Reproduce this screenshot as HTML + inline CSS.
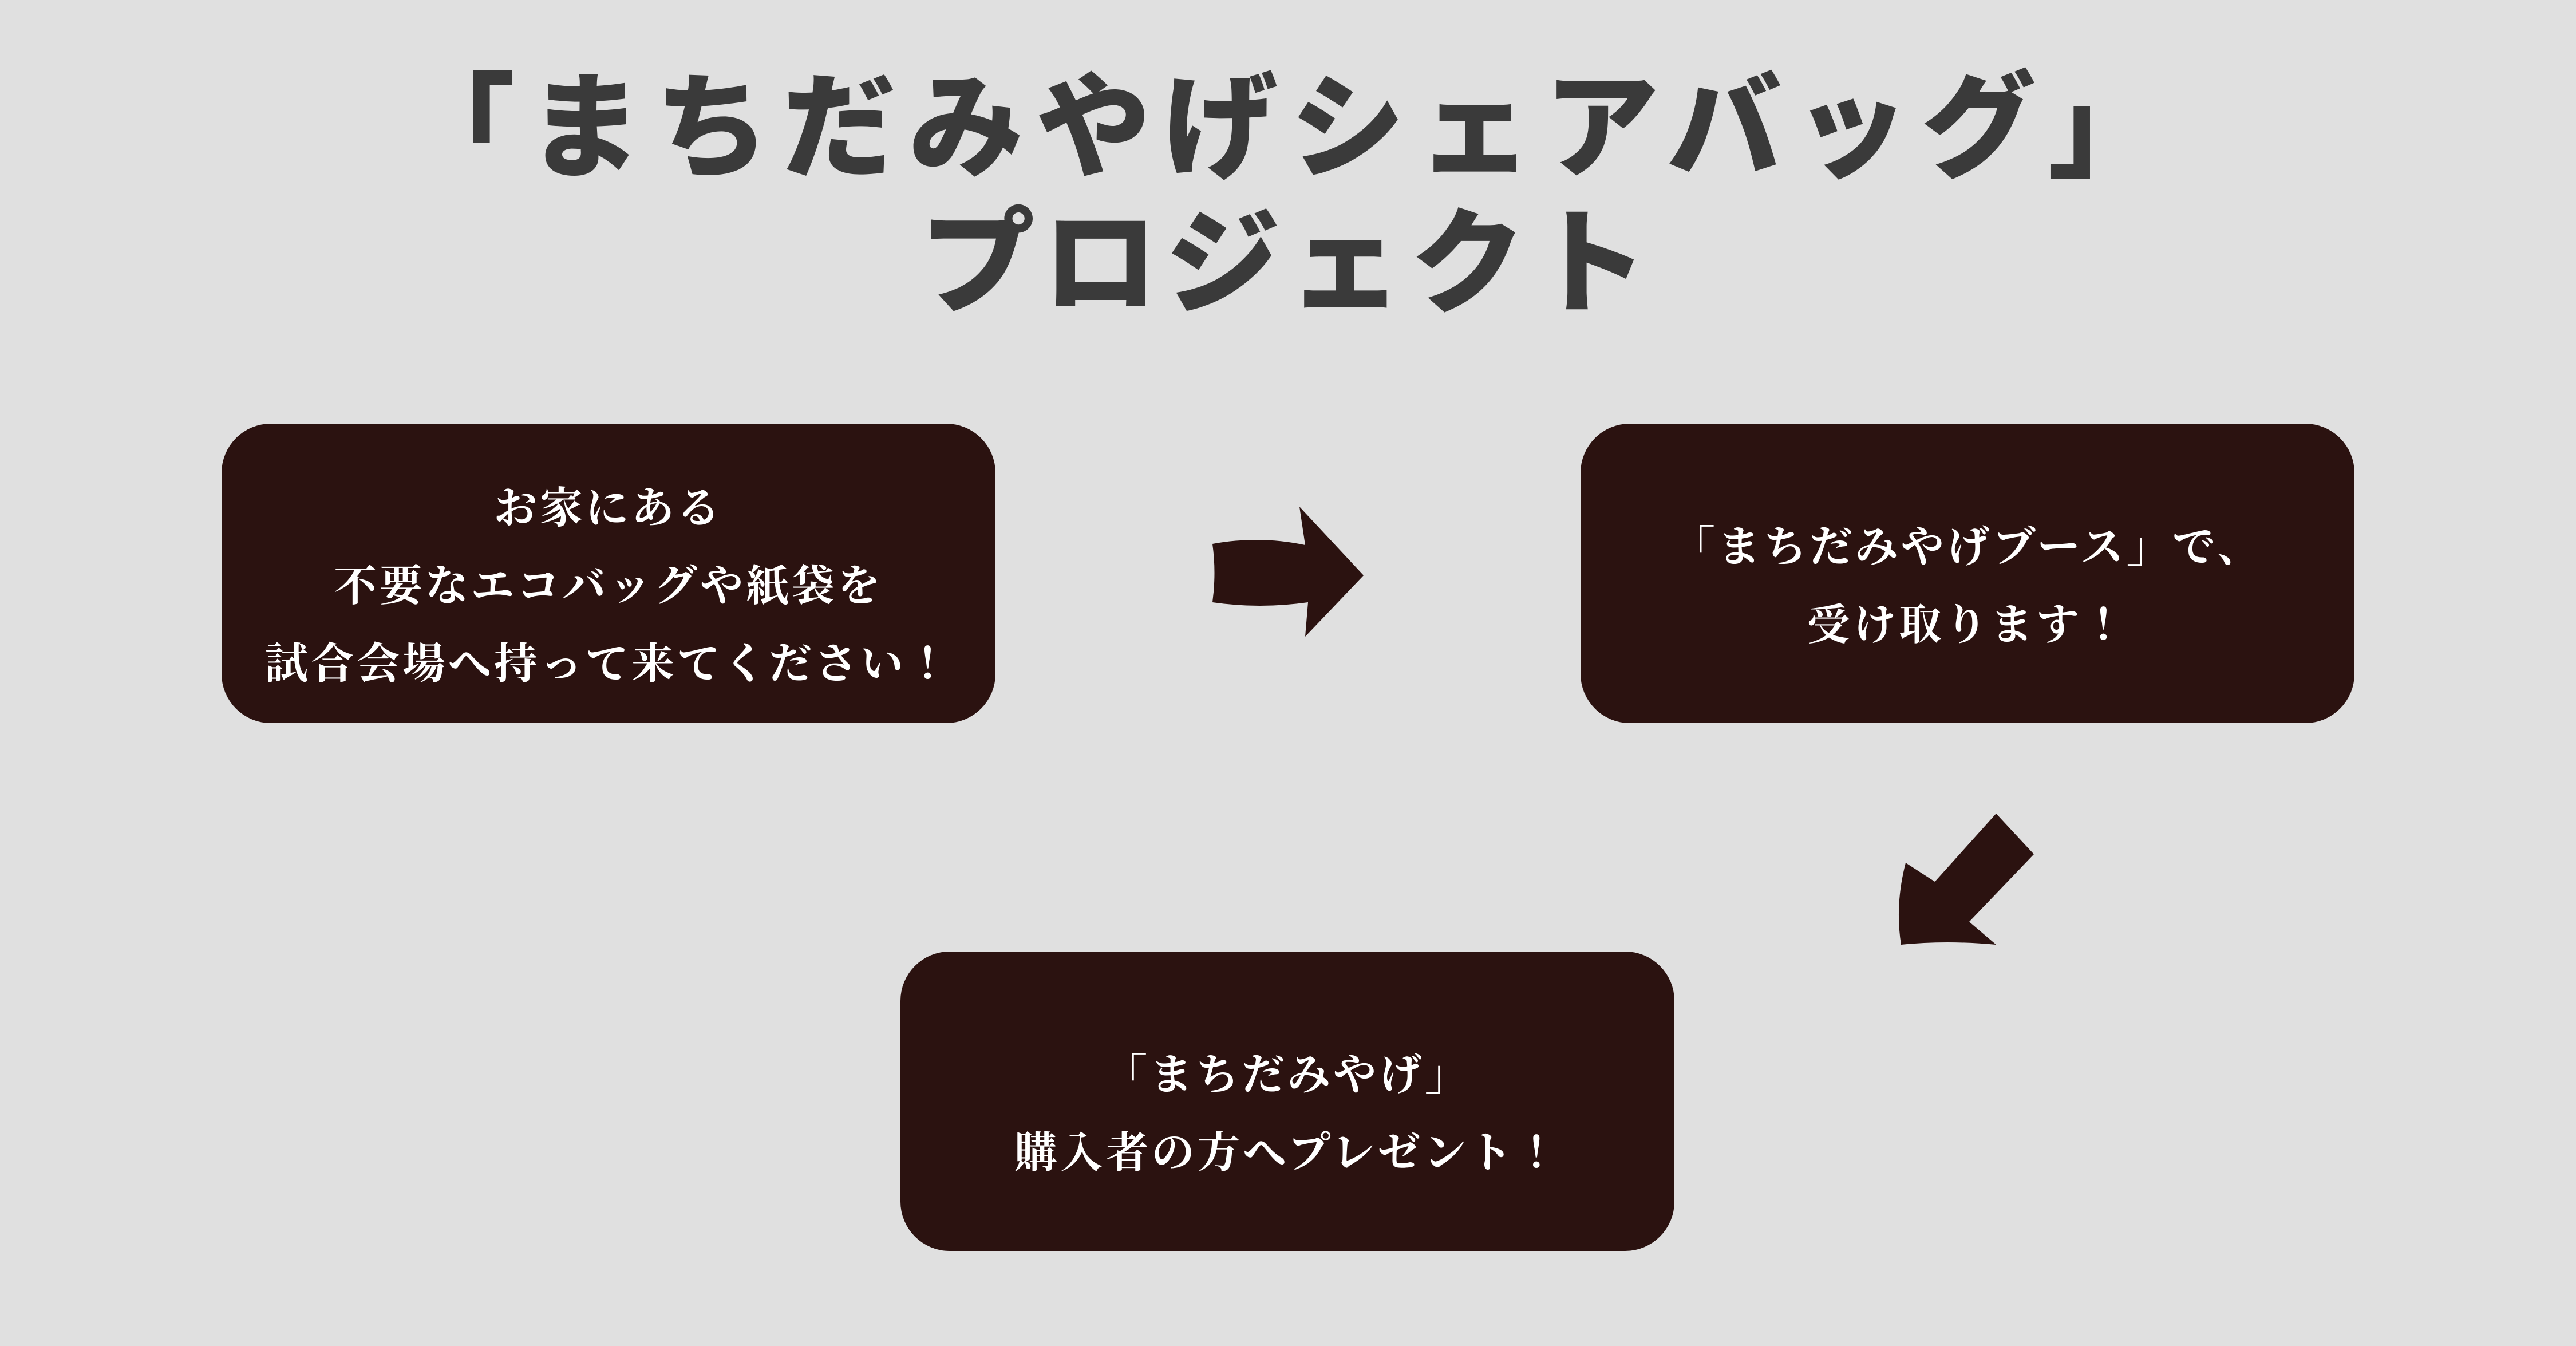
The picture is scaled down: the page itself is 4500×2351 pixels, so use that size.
<!DOCTYPE html>
<html><head><meta charset="utf-8"><style>
html,body{margin:0;padding:0}
body{width:4500px;height:2351px;background:#e0e0e0;position:relative;overflow:hidden}
.t{position:absolute;left:0;width:4500px;text-align:center;font-family:"Liberation Sans","Noto Sans CJK JP",sans-serif;font-weight:900;color:#3a3a3a;font-size:200px;line-height:1;letter-spacing:22px}
.b{position:absolute;box-sizing:border-box;padding-top:46px;width:1352px;height:523px;background:#2b1210;border-radius:86px;color:#fff;font-family:"Liberation Serif","Noto Serif CJK JP",serif;font-weight:700;font-size:75px;display:flex;flex-direction:column;justify-content:center;align-items:center;line-height:136px;text-align:center;letter-spacing:5px}
</style></head><body>
<div class="t" style="top:125px">「まちだみやげシェアバッグ」</div>
<div class="t" style="top:362px;letter-spacing:14px">プロジェクト</div>
<div class="b" style="left:387px;top:740px"><div>お家にある</div><div>不要なエコバッグや紙袋を</div><div>試合会場へ持って来てください！</div></div>
<div class="b" style="left:2761px;top:740px"><div>「まちだみやげブース」で、</div><div>受け取ります！</div></div>
<div class="b" style="left:1573px;top:1662px"><div>「まちだみやげ」</div><div>購入者の方へプレゼント！</div></div>
<svg width="4500" height="2351" style="position:absolute;left:0;top:0">
<path fill="#2b1210" d="M2118,950 Q2200,935 2280,952 L2270,885 L2382,1005 L2280,1112 L2285,1052 Q2200,1064 2118,1052 Q2125,1000 2118,950 Z"/>
<path fill="#2b1210" d="M3329,1507 Q3310,1580 3321,1650 Q3400,1642 3487,1650 L3440,1610 L3553,1492 L3487,1421 L3380,1540 Z"/>
</svg>
</body></html>
